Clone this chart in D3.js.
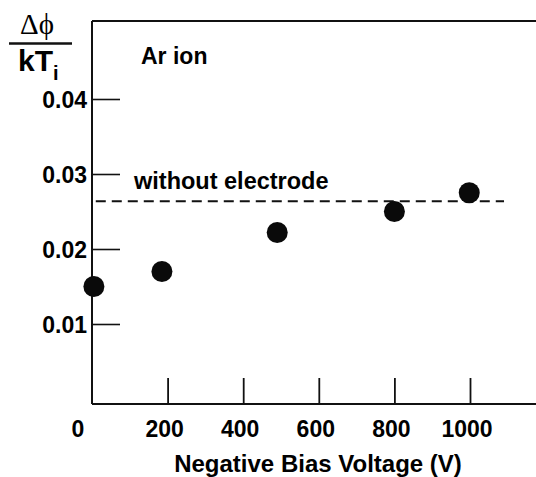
<!DOCTYPE html>
<html>
<head>
<meta charset="utf-8">
<script src="https://cdn.jsdelivr.net/npm/d3@7"></script>
<style>
  body { margin: 0; background: #fff; }
  text { font-family: "Liberation Sans", Arial, Helvetica, sans-serif; font-weight: bold; fill: #000; }
</style>
</head>
<body>
<div id="chart"></div>
<script>
// data
var voltage = [5, 185, 490, 800, 998];
var ratio = [0.0150, 0.0170, 0.0222, 0.0250, 0.0275];
var xTicks = [0, 200, 400, 600, 800, 1000];
var yTicks = [0.01, 0.02, 0.03, 0.04];
var refLevel = 0.02636;
var refRange = [10, 1090];

function ArChart() {
  var svgWidth = 536;
  var svgHeight = 477;

  var svg = d3.select("#chart")
    .append("svg")
    .attr("width", svgWidth)
    .attr("height", svgHeight);

  // scales
  var x = d3.scaleLinear().domain([0, 1000]).range([92, 470]);
  var y = d3.scaleLinear().domain([0.01, 0.04]).range([324, 99]);

  var left = x(0), top = 21, bottom = 404;

  // frame (right side runs off the page)
  svg.append("line")
    .attr("x1", left).attr("x2", svgWidth)
    .attr("y1", top).attr("y2", top)
    .attr("stroke", "#111").attr("stroke-width", 2);
  svg.append("line")
    .attr("x1", left).attr("x2", svgWidth)
    .attr("y1", bottom).attr("y2", bottom)
    .attr("stroke", "#111").attr("stroke-width", 2);
  svg.append("line")
    .attr("x1", left).attr("x2", left)
    .attr("y1", top).attr("y2", bottom)
    .attr("stroke", "#111").attr("stroke-width", 2);

  // x ticks point up inside the box
  var xAxis = d3.axisTop(x)
    .tickValues(xTicks.filter(d => d > 0))
    .tickSize(26)
    .tickFormat("");
  var gx = svg.append("g")
    .attr("transform", `translate(0, ${bottom})`)
    .call(xAxis);
  gx.select(".domain").remove();
  gx.selectAll("line").attr("stroke", "#111").attr("stroke-width", 1.8);

  svg.selectAll(".xlab")
    .data(xTicks)
    .enter()
    .append("text")
    .attr("class", "xlab")
    .attr("x", d => x(d) + (d === 0 ? -14 : -3))
    .attr("y", 437)
    .attr("text-anchor", "middle")
    .attr("font-size", "23px")
    .text(d => d);

  // y ticks point right
  var yAxis = d3.axisRight(y)
    .tickValues(yTicks)
    .tickSize(28)
    .tickFormat("");
  var gy = svg.append("g")
    .attr("transform", `translate(${left}, 0)`)
    .call(yAxis);
  gy.select(".domain").remove();
  gy.selectAll("line").attr("stroke", "#111").attr("stroke-width", 1.6);

  svg.selectAll(".ylab")
    .data(yTicks)
    .enter()
    .append("text")
    .attr("class", "ylab")
    .attr("x", left - 5)
    .attr("y", d => y(d) + 9)
    .attr("text-anchor", "end")
    .attr("font-size", "23px")
    .text(d => d.toFixed(2));

  // reference level without electrode
  svg.append("line")
    .attr("x1", x(refRange[0])).attr("x2", x(refRange[1]))
    .attr("y1", y(refLevel)).attr("y2", y(refLevel))
    .attr("stroke", "#111").attr("stroke-width", 2)
    .attr("stroke-dasharray", "10,6");

  svg.append("text")
    .attr("x", 134).attr("y", 189)
    .attr("font-size", "23.5px")
    .text("without electrode");

  svg.append("text")
    .attr("x", 141).attr("y", 64)
    .attr("font-size", "23px")
    .text("Ar ion");

  // data points
  svg.selectAll("circle")
    .data(voltage)
    .enter()
    .append("circle")
    .attr("cx", d => x(d))
    .attr("cy", (d, i) => y(ratio[i]))
    .attr("r", 10.5)
    .attr("fill", "#0a0a0a");

  // y label as a fraction
  svg.append("text")
    .attr("x", 37).attr("y", 34)
    .attr("text-anchor", "middle")
    .attr("font-size", "29px")
    .style("font-family", "'Liberation Serif', 'DejaVu Serif', serif")
    .style("font-weight", "normal")
    .text("Δϕ");
  svg.append("line")
    .attr("x1", 9).attr("x2", 72)
    .attr("y1", 43.5).attr("y2", 43.5)
    .attr("stroke", "#111").attr("stroke-width", 2.5);
  var kt = svg.append("text")
    .attr("x", 18).attr("y", 71)
    .attr("font-size", "30px");
  kt.append("tspan").text("kT");
  kt.append("tspan")
    .attr("font-size", "20px")
    .attr("dy", 9)
    .text("i");

  // x axis title
  svg.append("text")
    .attr("x", 318).attr("y", 472)
    .attr("text-anchor", "middle")
    .attr("font-size", "24px")
    .text("Negative Bias Voltage (V)");
}

ArChart();
</script>
</body>
</html>
